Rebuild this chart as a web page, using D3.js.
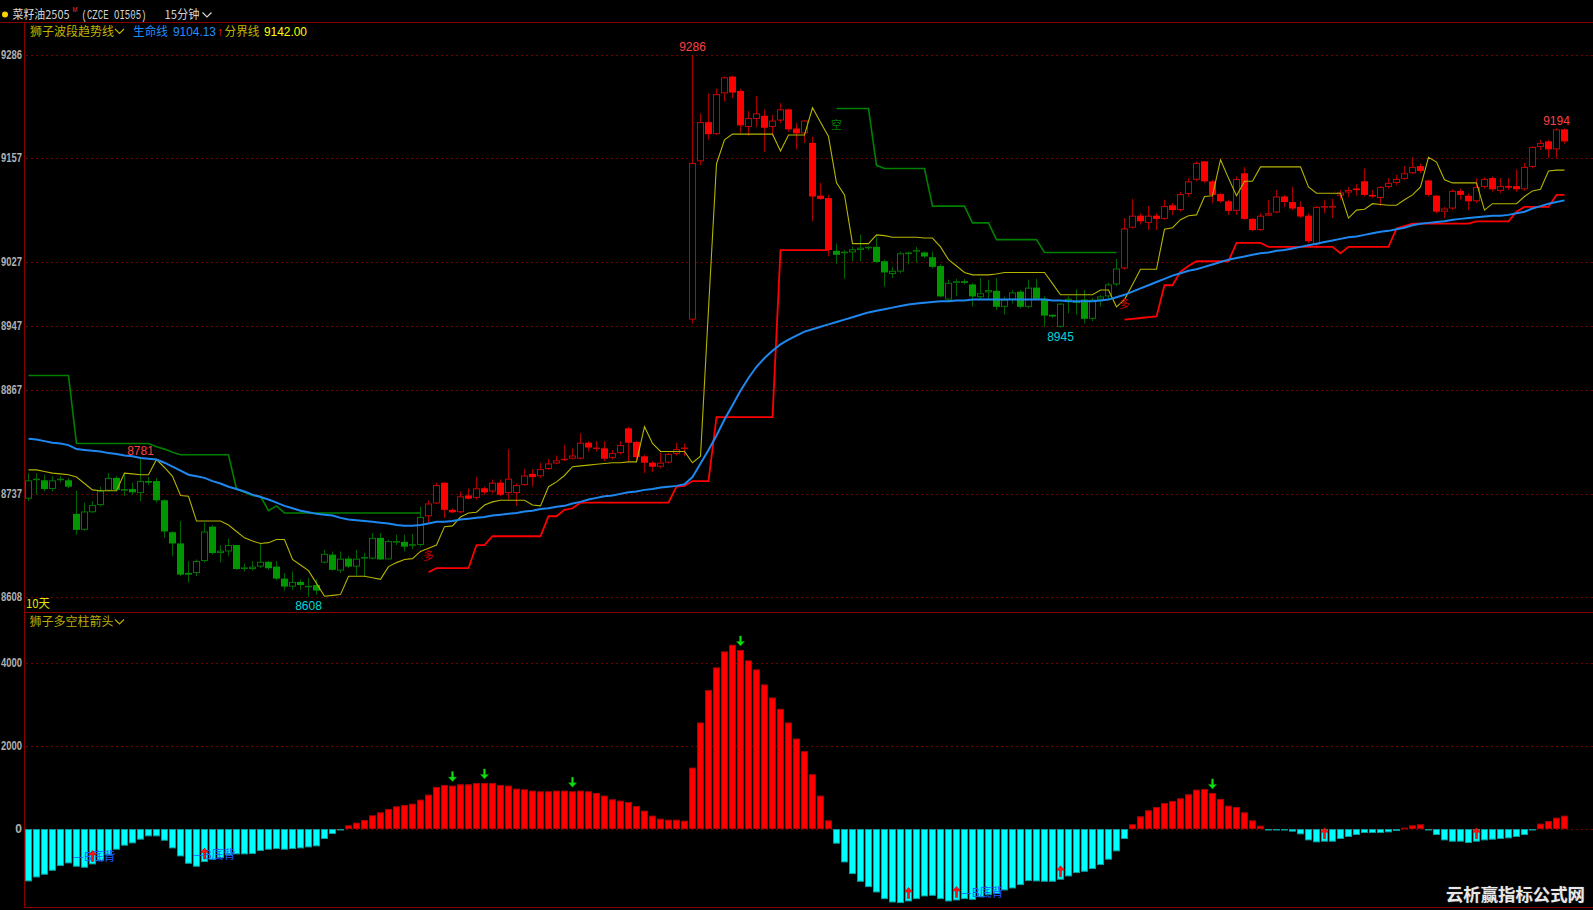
<!DOCTYPE html>
<html><head><meta charset="utf-8">
<script src="https://cdn.jsdelivr.net/npm/d3@7"></script>
<style>
html,body{margin:0;padding:0;background:#000;overflow:hidden}
svg{display:block}
</style></head><body>
<svg id="chart" width="1593" height="910"></svg>
<script>
// ---------------- DATA ----------------
const symbolName = "菜籽油2505";
const symbolCode = "(CZCE OI505)";
const period = "15分钟";
const indicatorMain = "狮子波段趋势线";
const indicatorSub = "狮子多空柱箭头";
const lifeLineName = "生命线";
const divLineName = "分界线";
const daysLabel = "10天";
const watermark = "云析赢指标公式网";

const yTicksMain = [9286, 9157, 9027, 8947, 8867, 8737, 8608];
const yTicksSub = [4000, 2000, 0];

const open = [8731,8755,8754,8743,8755,8754,8712,8692,8714,8723,
 8741,8757,8741,8743,8738,8753,8753,8729,8689,8675,
 8638,8638,8653,8696,8663,8665,8673,8644,8643,8646,
 8652,8646,8631,8621,8627,8621,8623,8651,8661,8641,
 8656,8646,8657,8656,8682,8655,8677,8677,8673,8673,
 8709,8725,8751,8717,8714,8735,8732,8744,8740,8751,
 8738,8738,8748,8762,8759,8768,8775,8780,8781,8781,
 8801,8794,8794,8782,8788,8819,8802,8784,8776,8771,
 8776,8787,8794,8955,9153,9202,9187,9238,9259,9241,
 9196,9206,9210,9196,9204,9218,9194,9188,9176,9110,
 9107,9041,9039,9039,9042,9045,9046,9028,9012,9015,
 9037,9041,9039,9033,9022,8980,9001,9003,8999,8983,
 8989,8991,8971,8980,8990,8971,8995,8981,8961,8946,
 8979,8978,8980,8956,8980,8984,8999,9019,9070,9085,
 9076,9085,9081,9098,9092,9112,9130,9153,9128,9112,
 9103,9091,9138,9081,9067,9085,9089,9109,9102,9096,
 9085,9049,9096,9096,9110,9114,9119,9128,9111,9107,
 9121,9126,9131,9138,9147,9129,9110,9090,9094,9116,
 9110,9103,9121,9132,9116,9122,9122,9118,9146,9171,
 9178,9168,9193];
const high = [8763,8763,8761,8759,8759,8757,8741,8726,8728,8746,
 8763,8759,8763,8751,8781,8758,8757,8730,8690,8703,
 8653,8655,8701,8698,8673,8681,8673,8650,8653,8675,
 8653,8653,8638,8640,8630,8632,8630,8667,8665,8665,
 8659,8667,8663,8688,8688,8680,8686,8686,8687,8721,
 8729,8751,8751,8719,8740,8744,8758,8746,8755,8755,
 8793,8750,8768,8768,8776,8781,8785,8798,8794,8813,
 8803,8803,8803,8792,8803,8821,8803,8786,8778,8788,
 8788,8801,8800,9286,9213,9238,9244,9259,9260,9244,
 9216,9235,9218,9211,9226,9219,9201,9205,9184,9126,
 9111,9050,9042,9046,9061,9047,9059,9030,9021,9040,
 9040,9046,9040,9040,9024,9005,9006,9006,9001,9007,
 9005,9007,8984,8992,8992,9005,9006,8984,8961,8976,
 8984,8993,8992,8982,8986,9001,9031,9082,9106,9088,
 9097,9088,9105,9101,9115,9132,9153,9153,9130,9113,
 9105,9134,9146,9082,9088,9105,9117,9111,9121,9103,
 9088,9097,9105,9106,9117,9121,9125,9144,9117,9122,
 9132,9136,9147,9158,9150,9130,9111,9096,9118,9119,
 9113,9132,9133,9134,9132,9132,9143,9151,9172,9180,
 9180,9194,9194];
const low = [8728,8736,8740,8740,8751,8744,8686,8691,8713,8721,
 8740,8740,8734,8736,8728,8748,8726,8682,8659,8634,
 8626,8634,8651,8661,8651,8659,8642,8640,8641,8644,
 8642,8629,8616,8617,8617,8608,8611,8650,8641,8638,
 8644,8635,8634,8655,8654,8655,8673,8665,8668,8671,
 8701,8724,8707,8713,8713,8730,8730,8736,8738,8734,
 8730,8722,8747,8746,8757,8767,8774,8778,8780,8780,
 8790,8790,8778,8780,8786,8778,8778,8763,8764,8769,
 8775,8785,8784,8950,9148,9180,9186,9228,9232,9188,
 9185,9196,9165,9185,9201,9190,9168,9176,9078,9105,
 9034,9025,9006,9028,9028,9042,9026,8996,9007,9013,
 9024,9026,9032,9019,8983,8978,8984,8999,8971,8980,
 8980,8967,8961,8975,8969,8969,8980,8946,8957,8945,
 8963,8961,8950,8953,8971,8980,8997,9017,9069,9074,
 9067,9067,9080,9086,9090,9109,9128,9126,9101,9101,
 9086,9086,9080,9066,9066,9084,9088,9096,9092,9082,
 9051,9044,9088,9082,9105,9108,9110,9109,9107,9097,
 9119,9123,9130,9137,9138,9109,9088,9082,9092,9105,
 9092,9101,9119,9115,9113,9117,9115,9116,9144,9167,
 9157,9157,9175];
const close = [8754,8756,8743,8754,8756,8746,8692,8715,8723,8741,
 8757,8742,8743,8739,8753,8752,8729,8690,8675,8636,
 8636,8653,8690,8663,8666,8673,8643,8644,8646,8652,
 8644,8631,8621,8627,8623,8622,8616,8662,8642,8656,
 8646,8656,8657,8682,8655,8678,8677,8671,8674,8708,
 8725,8748,8717,8714,8734,8731,8744,8739,8751,8736,
 8756,8748,8760,8758,8768,8775,8779,8780,8785,8801,
 8795,8794,8781,8788,8798,8801,8783,8776,8771,8776,
 8787,8793,8794,9151,9202,9187,9237,9258,9239,9198,
 9207,9213,9195,9204,9218,9193,9188,9204,9109,9106,
 9042,9036,9039,9043,9045,9046,9027,9014,9016,9038,
 9039,9041,9034,9021,8984,9001,9003,9001,8984,8988,
 8992,8971,8980,8989,8971,8995,8981,8960,8959,8975,
 8981,8976,8956,8980,8984,8999,9019,9069,9085,9078,
 9085,9081,9097,9092,9112,9128,9151,9128,9111,9103,
 9091,9131,9081,9067,9085,9088,9109,9102,9094,9084,
 9053,9096,9096,9097,9114,9117,9117,9111,9109,9121,
 9126,9131,9138,9146,9141,9111,9090,9094,9116,9111,
 9103,9121,9131,9118,9122,9121,9118,9146,9171,9176,
 9168,9193,9178];

// 生命线 (blue)
const lifeLine = [8806,8805,8803,8801,8800,8798,8793,8792,8791,8790,
 8788,8787,8785,8784,8782,8781,8780,8776,8771,8766,
 8761,8759,8757,8753,8750,8746,8743,8740,8736,8733,
 8730,8726,8722,8719,8716,8714,8712,8711,8710,8707,
 8705,8704,8703,8702,8701,8700,8698,8697,8697,8698,
 8700,8702,8702,8703,8705,8706,8707,8708,8710,8711,
 8712,8713,8715,8716,8718,8719,8721,8722,8725,8727,
 8730,8732,8734,8735,8737,8739,8740,8742,8743,8745,
 8746,8747,8749,8758,8775,8792,8810,8830,8848,8866,
 8882,8896,8907,8916,8924,8930,8935,8940,8943,8946,
 8949,8952,8955,8958,8961,8964,8966,8968,8970,8972,
 8974,8975,8976,8977,8978,8978,8979,8979,8980,8980,
 8980,8980,8980,8980,8980,8980,8980,8980,8979,8979,
 8978,8978,8978,8978,8979,8980,8983,8986,8990,8994,
 8998,9002,9006,9010,9013,9016,9018,9021,9024,9027,
 9030,9032,9034,9036,9038,9039,9041,9042,9044,9046,
 9048,9050,9052,9054,9056,9058,9059,9061,9063,9065,
 9066,9068,9070,9073,9075,9076,9077,9078,9080,9081,
 9082,9083,9084,9085,9085,9086,9088,9090,9094,9097,
 9100,9102,9104.13];

// 分界线 (yellow)
const divLine = [8767,8767,8765,8763,8762,8761,8758,8750,8742,8741,
 8741,8741,8763,8762,8761,8761,8780,8770,8759,8735,
 8734,8703,8703,8703,8703,8698,8690,8682,8678,8675,
 8676,8680,8680,8655,8648,8641,8625,8609,8610,8611,
 8634,8634,8634,8632,8630,8646,8651,8655,8656,8665,
 8669,8673,8696,8697,8708,8713,8714,8723,8727,8729,
 8729,8729,8729,8723,8722,8746,8752,8760,8771,8772,
 8773,8774,8775,8776,8776,8777,8777,8821,8800,8790,
 8790,8790,8790,8776,8784,8968,9150,9180,9187,9187,
 9187,9187,9187,9187,9166,9186,9186,9186,9220,9202,
 9184,9126,9111,9050,9050,9050,9061,9060,9058,9058,
 9058,9058,9057,9057,9046,9030,9022,9014,9011,9011,
 9011,9012,9014,9014,9014,9014,9014,9014,9000,8986,
 8986,8986,8986,8986,8992,8992,8971,8980,8999,9018,
 9018,9018,9068,9070,9080,9085,9086,9109,9110,9155,
 9132,9110,9128,9128,9146,9146,9146,9146,9146,9146,
 9121,9113,9113,9113,9113,9082,9092,9093,9100,9099,
 9098,9098,9105,9111,9121,9158,9152,9130,9126,9126,
 9126,9126,9092,9100,9100,9100,9100,9109,9116,9118,
 9141,9142,9142];

// short (green) resistance steps and long (red) support steps
const shortBandStart = [0, 101];
const shortBandA = [8885,8885,8885,8885,8885,8885,8800,8800,8800,8800,
 8800,8800,8800,8800,8800,8800,8796,8793,8789,8786,
 8786,8786,8786,8786,8786,8786,8743,8739,8735,8734,
 8716,8722,8713,8713,8713,8713,8713,8713,8713,8713,
 8713,8713,8713,8713,8713,8713,8713,8713,8713,8713];
const shortBandB = [9219,9219,9219,9219,9219,9148,9144,9144,9144,9144,
 9144,9144,9097,9097,9097,9097,9097,9076,9076,9076,
 9055,9055,9055,9055,9055,9055,9039,9039,9039,9039,
 9039,9039,9039,9039,9039,9039];
const longBandStart = [50, 137];
const longBandA = [8639,8644,8644,8644,8644,8644,8673,8673,8684,8684,
 8684,8684,8684,8684,8684,8709,8709,8717,8719,8726,
 8726,8726,8726,8726,8726,8726,8726,8726,8726,8726,
 8726,8746,8747,8753,8753,8753,8833,8833,8833,8833,
 8833,8833,8833,8833,9042,9042,9042,9042,9042,9042,9042];
const longBandB = [8955,8956,8957,8958,8959,8998,8998,9015,9022,9028,
 9028,9028,9028,9028,9051,9051,9051,9051,9046,9046,
 9046,9046,9046,9046,9046,9046,9046,9038,9046,9046,
 9046,9046,9046,9046,9069,9072,9075,9075,9075,9075,
 9075,9075,9075,9075,9078,9078,9078,9078,9078,9090,
 9096,9096,9096,9096,9111,9111];

// 多空柱 histogram
const histo = [-1263,-1167,-1102,-1006,-893,-829,-909,-933,-853,-764,
 -628,-499,-402,-346,-257,-177,-177,-282,-467,-660,
 -837,-909,-797,-740,-700,-628,-611,-611,-603,-531,
 -499,-483,-499,-483,-467,-443,-418,-241,-121,-16,
 89,153,217,330,402,483,547,579,611,708,
 829,1014,1062,1046,1078,1078,1110,1110,1110,1062,
 1046,974,957,925,909,909,925,925,909,925,
 909,869,805,716,684,652,555,443,322,249,
 225,225,201,1480,2567,3347,3894,4280,4441,4313,
 4063,3846,3484,3170,2897,2567,2180,1875,1320,805,
 209,-354,-805,-1086,-1271,-1400,-1529,-1690,-1770,-1786,
 -1746,-1690,-1625,-1609,-1690,-1746,-1722,-1690,-1706,-1641,
 -1585,-1561,-1480,-1432,-1352,-1255,-1263,-1271,-1271,-1223,
 -1143,-1062,-1030,-966,-869,-740,-539,-241,113,306,
 451,531,628,676,740,837,949,966,869,724,
 563,531,402,209,80,-16,-16,-32,-64,-129,
 -274,-322,-306,-306,-241,-193,-145,-97,-97,-97,
 -80,-48,32,89,113,-5,-145,-274,-306,-306,
 -338,-306,-274,-257,-241,-225,-193,-145,-16,129,
 193,274,322];

const upArrowIdx = [8, 22, 110, 116, 129, 162, 181];
const downArrowIdx = [53, 57, 68, 89, 148];
const divergenceText = "—B底背";
const divergenceStartIdx = [6, 21, 117];
const divergenceArrowIdx = [8, 22, 116];

const highMarks = [14, 83, 191];
const lowMarks = [35, 129];
const longSignalIdx = [50, 137];
const shortSignalIdx = [101];

// ---------------- DRAW ----------------
const W = 1593, H = 910;
const N = open.length;
const CJK = '"Noto Sans CJK SC","Noto Sans",sans-serif';
const LAT = '"Liberation Sans",Arial,sans-serif';
const svg = d3.select('#chart');
svg.append('rect').attr('width', W).attr('height', H).attr('fill', '#000');

function expand(starts, segs) {
  const a = new Array(N).fill(null);
  segs.forEach((s, k) => s.forEach((v, j) => { a[starts[k] + j] = v; }));
  return a;
}
const shortBand = expand(shortBandStart, [shortBandA, shortBandB]);
const longBand = expand(longBandStart, [longBandA, longBandB]);

const x = d3.scaleBand().domain(d3.range(N)).range([24.5, 24.5 + N * 8])
  .paddingInner(0.125).paddingOuter(0.0625);
const cx = i => x(i) + x.bandwidth() / 2;
const y = d3.scaleLinear().domain([8608, 9286]).range([597, 55]);
const yh = d3.scaleLinear().domain([0, 4000]).range([829, 663]);

const frame = '#860000';
const gridCol = '#740000';

// grid lines
svg.append('g').selectAll('line').data(yTicksMain).join('line')
  .attr('x1', 26).attr('x2', W)
  .attr('y1', d => Math.round(y(d)) + 0.5).attr('y2', d => Math.round(y(d)) + 0.5)
  .attr('stroke', gridCol).attr('stroke-dasharray', '2,3');
svg.append('g').selectAll('line').data(yTicksSub).join('line')
  .attr('x1', 26).attr('x2', W)
  .attr('y1', d => Math.round(yh(d)) + 0.5).attr('y2', d => Math.round(yh(d)) + 0.5)
  .attr('stroke', gridCol).attr('stroke-dasharray', '2,3');

// axes (labels) - squeezed to fit in the narrow left margin
function styleAxis(g) {
  g.select('.domain').remove();
  g.selectAll('text').attr('fill', '#b0b0b0')
    .style('font-family', LAT).style('font-size', '12px').style('font-weight', 'bold')
    .each(function () {
      const t = d3.select(this);
      const n = t.text().length;
      if (n > 1) t.attr('textLength', Math.min(21, n * 6.6)).attr('lengthAdjust', 'spacingAndGlyphs');
    });
}
svg.append('g').attr('transform', 'translate(25,0)')
  .call(d3.axisLeft(y).tickValues(yTicksMain).tickSize(0).tickPadding(3).tickFormat(d3.format('d')))
  .call(styleAxis);
svg.append('g').attr('transform', 'translate(25,0)')
  .call(d3.axisLeft(yh).tickValues(yTicksSub).tickSize(0).tickPadding(3).tickFormat(d3.format('d')))
  .call(styleAxis);

// frame
svg.append('line').attr('x1', 0).attr('x2', W).attr('y1', 22.5).attr('y2', 22.5).attr('stroke', frame);
svg.append('line').attr('x1', 24.5).attr('x2', 24.5).attr('y1', 22).attr('y2', 908).attr('stroke', frame);
svg.append('line').attr('x1', 25).attr('x2', W).attr('y1', 612.5).attr('y2', 612.5).attr('stroke', frame);
svg.append('line').attr('x1', 25).attr('x2', W).attr('y1', 907.5).attr('y2', 907.5).attr('stroke', frame);

// clip for main panel
svg.append('clipPath').attr('id', 'mainClip').append('rect')
  .attr('x', 25).attr('y', 23).attr('width', W - 25).attr('height', 589);

const main = svg.append('g').attr('clip-path', 'url(#mainClip)');

// candles
const cg = main.append('g');
const candle = cg.selectAll('g').data(d3.range(N)).join('g');
const pal = i => longBand[i] != null
  ? { fill: '#ff0000', edge: '#cc0000', wick: '#a80000' }
  : { fill: '#009600', edge: '#007800', wick: '#006400' };
candle.append('line')
  .attr('x1', i => cx(i)).attr('x2', i => cx(i))
  .attr('y1', i => y(high[i])).attr('y2', i => y(low[i]))
  .attr('stroke', i => pal(i).wick).attr('stroke-width', 1);
candle.each(function (i) {
  const g = d3.select(this);
  const o = open[i], c = close[i], p = pal(i);
  const top = y(Math.max(o, c)), bot = y(Math.min(o, c));
  if (c > o) {
    g.append('rect').attr('x', x(i) + 0.5).attr('y', top + 0.5)
      .attr('width', x.bandwidth() - 1).attr('height', Math.max(bot - top - 1, 0.5))
      .attr('fill', '#000').attr('stroke', p.edge).attr('stroke-width', 1);
  } else if (c < o) {
    g.append('rect').attr('x', x(i)).attr('y', top)
      .attr('width', x.bandwidth()).attr('height', Math.max(bot - top, 1.5))
      .attr('fill', p.fill);
  } else {
    g.append('line').attr('x1', x(i)).attr('x2', x(i) + x.bandwidth())
      .attr('y1', top).attr('y2', top).attr('stroke', p.edge).attr('stroke-width', 1.5);
  }
});

// lines
const mkLine = d3.line().defined(d => d[1] != null).x(d => cx(d[0])).y(d => y(d[1]));
const pairs = arr => arr.map((v, i) => [i, v]);
main.append('path').attr('d', mkLine(pairs(divLine))).attr('fill', 'none')
  .attr('stroke', '#b4b400').attr('stroke-width', 1.1);
main.append('path').attr('d', mkLine(pairs(shortBand))).attr('fill', 'none')
  .attr('stroke', '#008000').attr('stroke-width', 1.6);
main.append('path').attr('d', mkLine(pairs(longBand))).attr('fill', 'none')
  .attr('stroke', '#ff0000').attr('stroke-width', 1.8);
main.append('path').attr('d', mkLine(pairs(lifeLine))).attr('fill', 'none')
  .attr('stroke', '#1e88f0').attr('stroke-width', 2);

// signal characters
main.selectAll('text.long').data(longSignalIdx).join('text')
  .attr('x', i => cx(i)).attr('y', i => y(longBand[i]) - 12)
  .attr('text-anchor', 'middle').attr('fill', '#c00000')
  .style('font-family', CJK).style('font-size', '11px').text('多');
main.selectAll('text.short').data(shortSignalIdx).join('text')
  .attr('x', i => cx(i)).attr('y', i => y(shortBand[i]) + 20)
  .attr('text-anchor', 'middle').attr('fill', '#008000')
  .style('font-family', CJK).style('font-size', '11px').text('空');

// high / low labels
main.selectAll('text.hi').data(highMarks).join('text')
  .attr('x', i => cx(i)).attr('y', i => y(high[i]) - 4)
  .attr('text-anchor', 'middle').attr('fill', '#ff4040')
  .style('font-family', LAT).style('font-size', '12px').text(i => high[i]);
main.selectAll('text.lo').data(lowMarks).join('text')
  .attr('x', i => cx(i)).attr('y', i => y(low[i]) + 13)
  .attr('text-anchor', 'middle').attr('fill', '#00d8d8')
  .style('font-family', LAT).style('font-size', '12px').text(i => low[i]);

// ---- lower panel ----
const sub = svg.append('g');
sub.selectAll('rect').data(d3.range(N)).join('rect')
  .attr('x', i => x(i) + 0.5).attr('width', x.bandwidth() - 1)
  .attr('y', i => Math.min(yh(histo[i]), yh(0)) + 0.5)
  .attr('height', i => Math.max(Math.abs(yh(histo[i]) - yh(0)) - 1, 0.5))
  .attr('fill', i => histo[i] >= 0 ? '#ff0000' : '#00ffff')
  .attr('stroke', i => histo[i] >= 0 ? '#b00000' : '#00a0a0').attr('stroke-width', 1);

// green down arrows above red peaks
sub.selectAll('path.dn').data(downArrowIdx).join('path')
  .attr('d', i => {
    const c = cx(i), tip = yh(histo[i]) - 4;
    return `M${c},${tip} L${c - 4},${tip - 4.5} L${c - 1},${tip - 4.5} L${c - 1},${tip - 10} L${c + 1},${tip - 10} L${c + 1},${tip - 4.5} L${c + 4},${tip - 4.5} Z`;
  })
  .attr('fill', '#10e010').attr('stroke', '#00a000').attr('stroke-width', 0.5);

// divergence labels
sub.selectAll('text.div').data(divergenceStartIdx).join('text')
  .attr('x', i => x(i))
  .attr('y', (i, k) => yh(histo[divergenceArrowIdx[k]]) - 3)
  .attr('fill', '#1a5cff')
  .style('font-family', CJK).style('font-size', '12px').text(divergenceText);

// red up arrows near cyan bar ends
sub.selectAll('path.up').data(upArrowIdx).join('path')
  .attr('d', i => {
    const c = cx(i), tip = yh(histo[i]) - 14;
    return `M${c},${tip} L${c + 4},${tip + 4.5} L${c + 1},${tip + 4.5} L${c + 1},${tip + 11} L${c - 1},${tip + 11} L${c - 1},${tip + 4.5} L${c - 4},${tip + 4.5} Z`;
  })
  .attr('fill', '#ff1010').attr('stroke', '#c00000').attr('stroke-width', 0.5);

// ---- texts ----
function txt(t, xx, yy, col, size, font, len, extra) {
  const e = svg.append('text').attr('x', xx).attr('y', yy).attr('fill', col)
    .style('font-family', font).style('font-size', size + 'px').text(t);
  if (len) e.attr('textLength', len).attr('lengthAdjust', 'spacingAndGlyphs');
  if (extra) extra(e);
  return e;
}
function chevron(x0, y0, col) {
  svg.append('path').attr('d', `M${x0},${y0} L${x0 + 4.5},${y0 + 4.5} L${x0 + 9},${y0}`)
    .attr('fill', 'none').attr('stroke', col).attr('stroke-width', 1.2);
}

// title bar
svg.append('circle').attr('cx', 5).attr('cy', 14.5).attr('r', 3).attr('fill', '#ffd000');
txt(symbolName, 12.5, 19, '#d4d4d4', 12, CJK, 57);
txt('M', 72.5, 11.5, '#ff3030', 7, LAT, 5);
txt(symbolCode, 81.5, 19, '#d4d4d4', 12, '"Liberation Mono",monospace', 65);
txt(period, 164.5, 19, '#d4d4d4', 12, CJK, 35);
chevron(202.5, 12.5, '#d4d4d4');

// legend main
const lastLife = lifeLine[N - 1], lastDiv = divLine[N - 1];
txt(indicatorMain, 30, 35.5, '#c0b400', 12, CJK, 84);
chevron(115, 29, '#c0b400');
txt(lifeLineName, 133, 35.5, '#1e8fff', 12, CJK, 35);
txt(lastLife.toFixed(2), 173, 35.5, '#1e8fff', 12, LAT, 43);
txt('↑', 217, 35.5, '#ff2020', 12, LAT, 6);
txt(divLineName, 224.5, 35.5, '#c0b400', 12, CJK, 35);
txt(lastDiv.toFixed(2), 264, 35.5, '#ffff00', 12, LAT, 43);

txt(daysLabel, 26, 608, '#e8e000', 12, CJK, 24);
txt(indicatorSub, 29.5, 626, '#b8ac00', 12, CJK, 84);
chevron(115, 619.5, '#b8ac00');

// watermark
txt(watermark, 1446, 901, '#e8e8e8', 17, CJK, 139, e => e.style('font-weight', 'bold')
  .attr('stroke', '#404040').attr('stroke-width', 0.6).attr('paint-order', 'stroke'));
</script>
</body></html>
